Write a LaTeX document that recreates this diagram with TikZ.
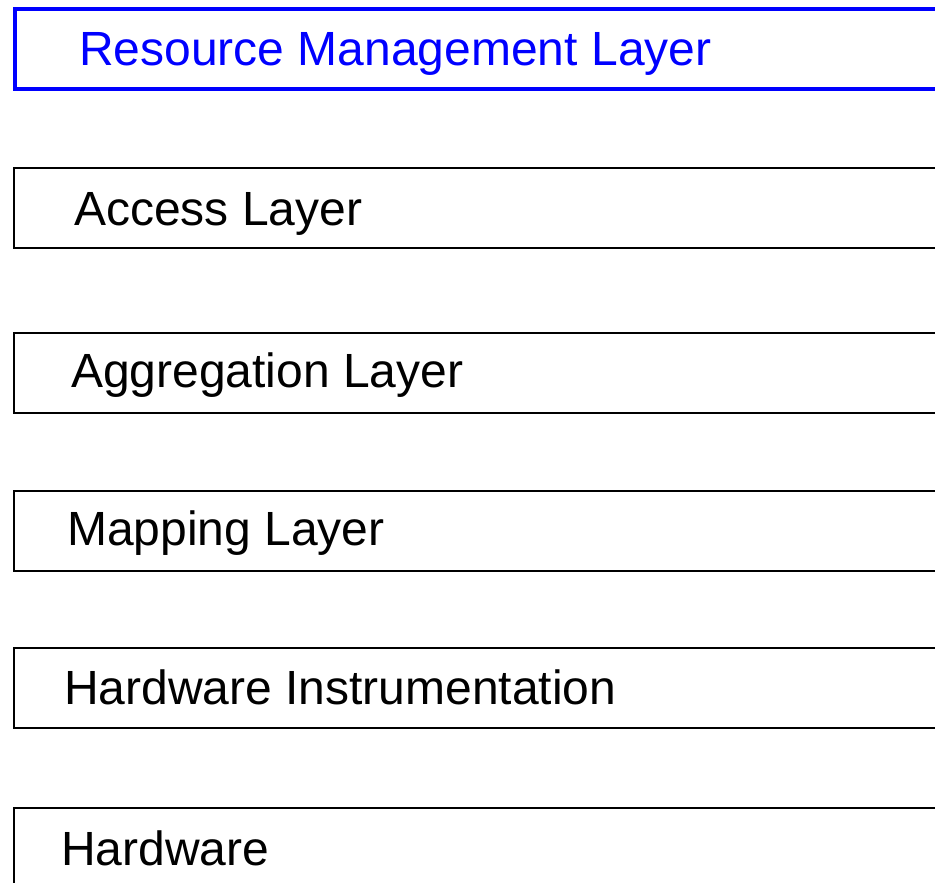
\documentclass[tikz,border=0pt]{standalone}
\usepackage{fontspec}
\setmainfont{Liberation Sans}
\usetikzlibrary{calc}
\definecolor{layerblue}{RGB}{0,0,255}
\tikzset{
  layerbox/.style={draw=black, line width=2pt, rectangle, inner sep=0pt,
    anchor=north west, minimum width=940pt, minimum height=80pt},
  activebox/.style={layerbox, draw=layerblue, line width=4pt},
  layertext/.style={anchor=base west, inner sep=0pt, text=black,
    font=\fontsize{48}{58}\selectfont},
  activetext/.style={layertext, text=layerblue}
}
\begin{document}
\begin{tikzpicture}[x=1pt,y=1pt]
\useasboundingbox (0,0) rectangle (935,-883);
\clip (0,0) rectangle (935,-883);
\node[activebox] (rml) at (13,-7) {};
\node[layerbox] (acc) at (13,-167) {};
\node[layerbox] (agg) at (13,-332) {};
\node[layerbox] (map) at (13,-490) {};
\node[layerbox] (hwi) at (13,-647) {};
\node[layerbox] (hw) at (13,-807) {};
\node[activetext] (rmlt) at ($(rml.north west)+(66,-59)$) {Resource Management Layer};
\node[layertext] (acct) at ($(acc.north west)+(61,-58)$) {Access Layer};
\node[layertext] (aggt) at ($(agg.north west)+(58,-55)$) {Aggregation Layer};
\node[layertext] (mapt) at ($(map.north west)+(54,-55)$) {Mapping Layer};
\node[layertext] (hwit) at ($(hwi.north west)+(51,-57)$) {Hardware Instrumentation};
\node[layertext] (hwt) at ($(hw.north west)+(48,-58)$) {Hardware};
\end{tikzpicture}
\end{document}
